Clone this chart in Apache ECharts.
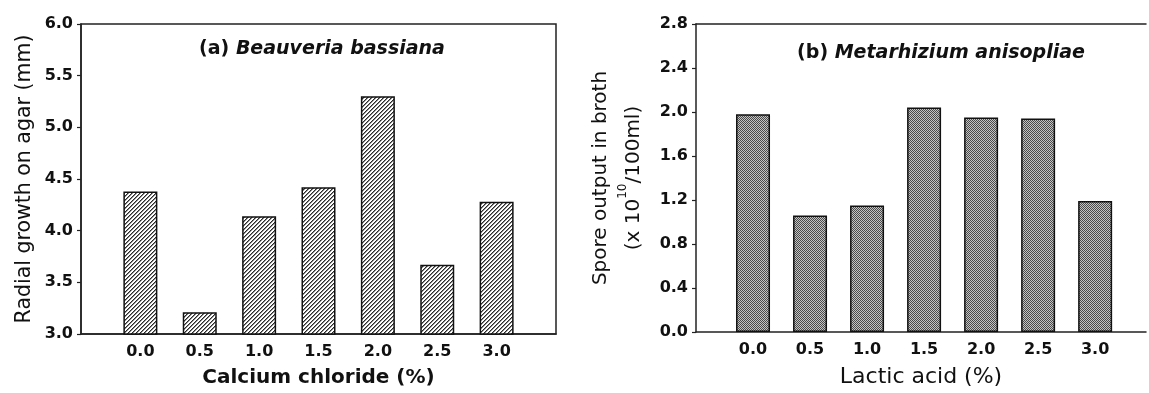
<!DOCTYPE html>
<html>
<head>
<meta charset="utf-8">
<script src="https://cdn.jsdelivr.net/npm/echarts@6/dist/echarts.min.js"></script>
<style>
html,body{margin:0;padding:0;background:#fff;}
#c{width:1149px;height:393px;}
</style>
</head>
<body>
<div id="c"></div>
<script>
// ---- data ----
var concentrations = [0.0, 0.5, 1.0, 1.5, 2.0, 2.5, 3.0];
var radialGrowth = [4.38, 3.21, 4.14, 4.42, 5.30, 3.67, 4.28];
var sporeOutput = [1.98, 1.06, 1.15, 2.04, 1.95, 1.94, 1.19];
var titleA = ['(a) ', 'Beauveria bassiana'];
var titleB = ['(b) ', 'Metarhizium anisopliae'];
var xNameA = 'Calcium chloride (%)';
var xNameB = 'Lactic acid (%)';
var yNameA = 'Radial growth on agar (mm)';
var yNameB = ['Spore output in broth', '(x 10', '10', '/100ml)'];

// ---- patterns ----
function hatch() {
  var c = document.createElement('canvas');
  c.width = 4; c.height = 4;
  var g = c.getContext('2d');
  g.fillStyle = '#fff'; g.fillRect(0, 0, 4, 4);
  for (var x = 0; x < 4; x++) for (var y = 0; y < 4; y++) {
    var k = (x + y) % 4;
    if (k === 0) { g.fillStyle = '#2a2a2a'; g.fillRect(x, y, 1, 1); }
    else if (k === 1) { g.fillStyle = '#8a8a8a'; g.fillRect(x, y, 1, 1); }
  }
  return c;
}
function checker() {
  var c = document.createElement('canvas');
  c.width = 2; c.height = 2;
  var g = c.getContext('2d');
  g.fillStyle = '#c4c4c4'; g.fillRect(0, 0, 2, 2);
  g.fillStyle = '#4a4a4a'; g.fillRect(0, 0, 1, 1); g.fillRect(1, 1, 1, 1);
  return c;
}

var FONT = 'DejaVu Sans';
var AX = '#222';

function pairs(xs, ys) { return xs.map(function (x, i) { return [x, ys[i]]; }); }

function xAxisCfg(gi, max, name, bold, fs) {
  return {
    gridIndex: gi, type: 'value', min: -0.5, max: max, interval: 0.5,
    name: name, nameLocation: 'middle', nameGap: 34,
    nameTextStyle: { fontFamily: FONT, fontSize: fs, fontWeight: bold ? 'bold' : 'normal', color: '#111' },
    axisLine: { show: true, onZero: false, lineStyle: { color: AX, width: 1.5 } },
    axisTick: { show: false },
    splitLine: { show: false },
    axisLabel: {
      margin: 10, fontFamily: FONT, fontSize: 16, fontWeight: 'bold', color: '#111',
      formatter: function (v) { return (v < -0.01 || v > 3.01) ? '' : v.toFixed(1); }
    }
  };
}
function yAxisCfg(gi, min, max, interval, name, nameGap, nameStyle) {
  return {
    gridIndex: gi, type: 'value', min: min, max: max, interval: interval,
    name: name, nameLocation: 'middle', nameGap: nameGap,
    nameTextStyle: nameStyle,
    axisLine: { show: true, onZero: false, lineStyle: { color: AX, width: 1.5 } },
    axisTick: { show: true, inside: false, length: 4, lineStyle: { color: AX, width: 1.2 } },
    splitLine: { show: false },
    axisLabel: { margin: 8, fontFamily: FONT, fontSize: 16, fontWeight: 'bold', color: '#111',
      formatter: function (v) { return v.toFixed(1); } }
  };
}

var richTitle = {
  b: { fontFamily: FONT, fontSize: 19, fontWeight: 'bold', color: '#111' },
  i: { fontFamily: FONT, fontSize: 19, fontWeight: 'bold', fontStyle: 'italic', color: '#111' }
};

var chart = echarts.init(document.getElementById('c'), null, { renderer: 'canvas' });
chart.setOption({
  animation: false,
  backgroundColor: '#fff',
  title: [
    { text: '{b|' + titleA[0] + '}{i|' + titleA[1] + '}', left: 317, top: 35, textAlign: 'center',
      textStyle: { rich: richTitle } },
    { text: '{b|' + titleB[0] + '}{i|' + titleB[1] + '}', left: 936, top: 39, textAlign: 'center',
      textStyle: { rich: richTitle } }
  ],
  grid: [
    { left: 81, top: 24, right: 593, bottom: 55, show: true, borderColor: AX, borderWidth: 1.5, backgroundColor: 'transparent' },
    { left: 696, top: 24, right: 0, bottom: 59, show: false }
  ],
  xAxis: [
    xAxisCfg(0, 3.5, xNameA, true, 20),
    xAxisCfg(1, 3.446, xNameB, false, 22),
    { gridIndex: 1, type: 'value', position: 'top', min: -0.5, max: 3.446,
      axisLine: { show: true, onZero: false, lineStyle: { color: AX, width: 1.5 } },
      axisTick: { show: false }, axisLabel: { show: false }, splitLine: { show: false } }
  ],
  yAxis: [
    yAxisCfg(0, 3, 6, 0.5, yNameA, 46, { fontFamily: FONT, fontSize: 20.5, color: '#111' }),
    yAxisCfg(1, 0, 2.8, 0.4,
      '{n|' + yNameB[0] + '}\n{n|' + yNameB[1] + '}{s|' + yNameB[2] + '}{n|' + yNameB[3] + '}', 46,
      { rich: {
        n: { fontFamily: FONT, fontSize: 20, color: '#111', lineHeight: 33 },
        s: { fontFamily: FONT, fontSize: 12, color: '#111', lineHeight: 33, verticalAlign: 'top', padding: [0, 0, 10, 0] } } })
  ],
  series: [
    { type: 'bar', xAxisIndex: 0, yAxisIndex: 0, barWidth: 34, clip: true,
      data: pairs(concentrations, radialGrowth),
      itemStyle: { color: { image: hatch(), repeat: 'repeat' }, borderColor: '#111', borderWidth: 1.5 } },
    { type: 'bar', xAxisIndex: 1, yAxisIndex: 1, barWidth: 34, clip: true,
      data: pairs(concentrations, sporeOutput),
      itemStyle: { color: { image: checker(), repeat: 'repeat' }, borderColor: '#111', borderWidth: 1.5 } }
  ]
});
</script>
</body>
</html>
